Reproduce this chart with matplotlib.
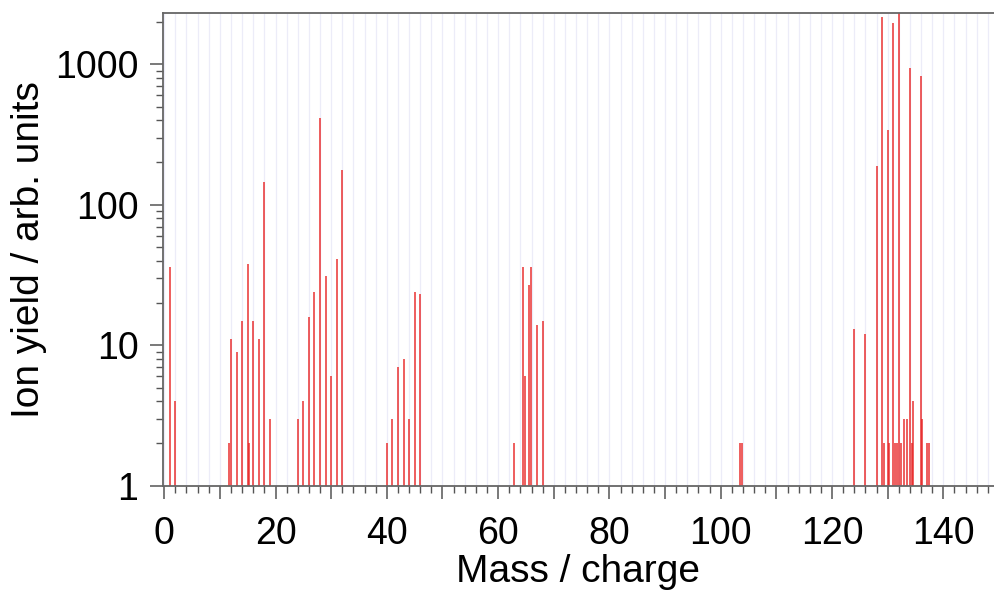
import numpy as np
import matplotlib
matplotlib.use("Agg")
import matplotlib.pyplot as plt
from matplotlib.ticker import MultipleLocator, LogLocator, FixedLocator, NullFormatter

# peaks: mass / charge and ion yield (arb. units)
mass_light = [1, 2, 11.7, 12, 13, 14, 15, 15.3, 16, 17, 18, 19,
              24, 25, 26, 27, 28, 29, 30, 31, 32,
              40, 41, 42, 43, 44, 45, 46]
yield_light = [36, 4, 2, 11, 9, 15, 38, 2, 15, 11, 145, 3,
               3, 4, 16, 24, 415, 31, 6, 41, 177,
               2, 3, 7, 8, 3, 24, 23]

mass_xe2 = [62.8, 64.5, 64.9, 65.5, 65.9, 66.9, 68.0, 103.5, 103.9]
yield_xe2 = [2, 36, 6, 27, 36, 14, 15, 2, 2]

mass_xe = [124, 126, 128, 129, 129.3, 130, 130.3, 131, 131.3, 131.6, 132, 132.4,
           133.0, 133.4, 134, 134.3, 134.6, 136, 136.2, 137.0, 137.4]
yield_xe = [13, 12, 190, 2180, 2, 340, 2, 1970, 2, 2, 2300, 2,
            3, 3, 935, 2, 4, 825, 3, 2, 2]

mass = np.array(mass_light + mass_xe2 + mass_xe)
ion_yield = np.array(yield_light + yield_xe2 + yield_xe)

plt.rcParams['font.family'] = ['Liberation Sans', 'DejaVu Sans']

fig = plt.figure(figsize=(9.94, 5.94), dpi=100)
ax = fig.add_axes([0.1637, 0.1823, 0.8363, 0.7953])

# light vertical grid every 2 units
for g in np.arange(0, 150, 2):
    ax.axvline(g, color="#ececf8", lw=0.9, zorder=0)

ax.vlines(mass, 1, ion_yield, color="#e82020", lw=1.2, alpha=0.85, zorder=2)

ax.set_yscale("log")
ax.set_xlim(-0.27, 149.1)
ax.set_ylim(1, 2307)

ax.xaxis.set_minor_locator(MultipleLocator(2))
ax.set_xticks(np.arange(0, 150, 10))
ax.set_xticklabels([str(v) if v % 20 == 0 else "" for v in range(0, 150, 10)])
ax.yaxis.set_major_locator(FixedLocator([1, 10, 100, 1000]))
ax.yaxis.set_minor_locator(LogLocator(base=10, subs=np.arange(2, 10)))
ax.yaxis.set_minor_formatter(NullFormatter())
ax.set_yticklabels(["1", "10", "100", "1000"])

ax.tick_params(which="major", direction="out", length=9.5, width=1.1,
               color="#555555", labelsize=27)
ax.tick_params(which="minor", direction="out", length=5, width=1.0, color="#555555")
ax.tick_params(axis="x", which="major", pad=12)
ax.tick_params(axis="y", which="major", pad=8)

for side in ["left", "bottom", "top"]:
    ax.spines[side].set_color("#666666")
    ax.spines[side].set_linewidth(1.3)
ax.spines["right"].set_visible(False)

ax.set_xlabel("Mass / charge", fontsize=28, labelpad=2)
ax.set_ylabel("Ion yield / arb. units", fontsize=28, labelpad=6)

fig.savefig("out.png", dpi=100)
